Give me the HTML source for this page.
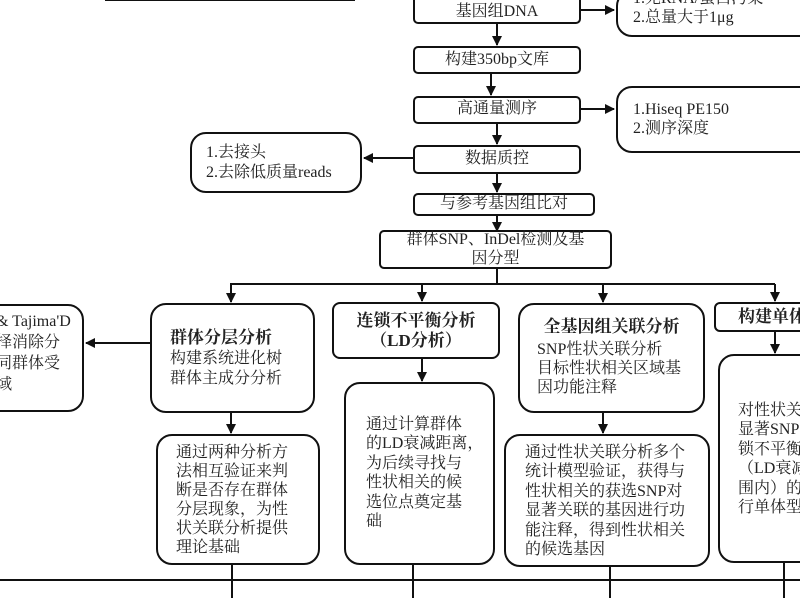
<!DOCTYPE html>
<html><head><meta charset="utf-8">
<style>
*{margin:0;padding:0;box-sizing:border-box}
body{width:800px;height:598px;overflow:hidden;background:#fff;position:relative;
font-family:"Liberation Serif","Noto Serif CJK SC",serif;color:#222}
.b{position:absolute;border:2px solid #111;background:#fff;border-radius:5px}
.r{border-radius:16px}
.t{position:absolute;font-size:16px;line-height:19.5px;white-space:nowrap}
.c{text-align:center}
.h{font-weight:bold;font-size:17px}
svg{position:absolute;left:0;top:0}
</style></head><body>
<svg width="800" height="598">
<defs><marker id="a" markerWidth="10" markerHeight="10" refX="9" refY="5" orient="auto" markerUnits="userSpaceOnUse"><path d="M0,0 L10,5 L0,10 z" fill="#111"/></marker></defs>
<g stroke="#111" stroke-width="2" fill="none">
<line x1="105" y1="0" x2="355" y2="0"/>
<line x1="497" y1="24" x2="497" y2="45" marker-end="url(#a)"/>
<line x1="581" y1="10" x2="614" y2="10" marker-end="url(#a)"/>
<line x1="491" y1="74" x2="491" y2="95" marker-end="url(#a)"/>
<line x1="581" y1="109" x2="614" y2="109" marker-end="url(#a)"/>
<line x1="497" y1="124" x2="497" y2="144" marker-end="url(#a)"/>
<line x1="413" y1="158" x2="364" y2="158" marker-end="url(#a)"/>
<line x1="497" y1="174" x2="497" y2="192" marker-end="url(#a)"/>
<line x1="497" y1="216" x2="497" y2="231" marker-end="url(#a)"/>
<line x1="497" y1="269" x2="497" y2="284"/>
<line x1="230" y1="284" x2="775" y2="284"/>
<line x1="231" y1="284" x2="231" y2="302" marker-end="url(#a)"/>
<line x1="422" y1="284" x2="422" y2="301" marker-end="url(#a)"/>
<line x1="603" y1="284" x2="603" y2="302" marker-end="url(#a)"/>
<line x1="775" y1="284" x2="775" y2="301" marker-end="url(#a)"/>
<line x1="150" y1="343" x2="86" y2="343" marker-end="url(#a)"/>
<line x1="231" y1="413" x2="231" y2="433" marker-end="url(#a)"/>
<line x1="422" y1="359" x2="422" y2="381" marker-end="url(#a)"/>
<line x1="603" y1="413" x2="603" y2="433" marker-end="url(#a)"/>
<line x1="775" y1="332" x2="775" y2="353" marker-end="url(#a)"/>
<line x1="0" y1="580" x2="800" y2="580"/>
<line x1="232" y1="565" x2="232" y2="598"/>
<line x1="413" y1="565" x2="413" y2="598"/>
<line x1="610" y1="567" x2="610" y2="598"/>
<line x1="784" y1="563" x2="784" y2="598"/>
</g></svg>

<div class="b" style="left:413px;top:-6px;width:168px;height:30px"></div>
<div class="t c" style="left:413px;top:2px;width:168px">基因组DNA</div>
<div class="b r" style="left:616px;top:-10px;width:200px;height:47px"></div>
<div class="t" style="left:633px;top:-11px">1.无RNA/蛋白污染</div>
<div class="t" style="left:633px;top:8px">2.总量大于1μg</div>

<div class="b" style="left:413px;top:46px;width:168px;height:28px"></div>
<div class="t c" style="left:413px;top:50px;width:168px">构建350bp文库</div>

<div class="b" style="left:413px;top:96px;width:168px;height:28px"></div>
<div class="t c" style="left:413px;top:99px;width:168px">高通量测序</div>
<div class="b r" style="left:616px;top:86px;width:200px;height:67px"></div>
<div class="t" style="left:633px;top:100px">1.Hiseq PE150</div>
<div class="t" style="left:633px;top:119px">2.测序深度</div>

<div class="b" style="left:413px;top:145px;width:168px;height:29px"></div>
<div class="t c" style="left:413px;top:149px;width:168px">数据质控</div>
<div class="b r" style="left:190px;top:132px;width:172px;height:61px"></div>
<div class="t" style="left:206px;top:143px">1.去接头</div>
<div class="t" style="left:206px;top:163px">2.去除低质量reads</div>

<div class="b" style="left:413px;top:193px;width:182px;height:23px"></div>
<div class="t c" style="left:413px;top:194px;width:182px">与参考基因组比对</div>

<div class="b" style="left:379px;top:230px;width:233px;height:39px"></div>
<div class="t c" style="left:379px;top:230px;width:233px;line-height:19px">群体SNP、InDel检测及基<br>因分型</div>

<div class="b r" style="left:-20px;top:304px;width:104px;height:108px"></div>
<div class="t" style="left:-4px;top:311px;line-height:21px">&amp; Tajima'D<br>择消除分<br>同群体受<br>域</div>

<div class="b r" style="left:150px;top:303px;width:165px;height:110px"></div>
<div class="t" style="left:170px;top:328px;line-height:20px"><span class="h">群体分层分析</span><br>构建系统进化树<br>群体主成分分析</div>
<div class="b r" style="left:156px;top:434px;width:164px;height:131px"></div>
<div class="t" style="left:176px;top:443px;line-height:19px">通过两种分析方<br>法相互验证来判<br>断是否存在群体<br>分层现象，为性<br>状关联分析提供<br>理论基础</div>

<div class="b" style="left:332px;top:302px;width:168px;height:57px;border-radius:8px"></div>
<div class="t c h" style="left:332px;top:311px;width:168px;line-height:20px">连锁不平衡分析<br>（LD分析）</div>
<div class="b r" style="left:344px;top:382px;width:151px;height:183px"></div>
<div class="t" style="left:366px;top:415px;line-height:19.4px">通过计算群体<br>的LD衰减距离，<br>为后续寻找与<br>性状相关的候<br>选位点奠定基<br>础</div>

<div class="b r" style="left:518px;top:303px;width:187px;height:110px"></div>
<div class="t c h" style="left:518px;top:317px;width:187px">全基因组关联分析</div>
<div class="t" style="left:537px;top:340px;line-height:19px">SNP性状关联分析<br>目标性状相关区域基<br>因功能注释</div>
<div class="b r" style="left:504px;top:434px;width:206px;height:133px"></div>
<div class="t" style="left:525px;top:443px;line-height:19.4px">通过性状关联分析多个<br>统计模型验证，获得与<br>性状相关的获选SNP对<br>显著关联的基因进行功<br>能注释，得到性状相关<br>的候选基因</div>

<div class="b" style="left:714px;top:302px;width:110px;height:30px;border-radius:6px"></div>
<div class="t h" style="left:738px;top:307px">构建单体</div>
<div class="b r" style="left:718px;top:354px;width:110px;height:209px"></div>
<div class="t" style="left:738px;top:401px;line-height:19.4px">对性状关<br>显著SNPs<br>锁不平衡<br>（LD衰减<br>围内）的<br>行单体型</div>
</body></html>
